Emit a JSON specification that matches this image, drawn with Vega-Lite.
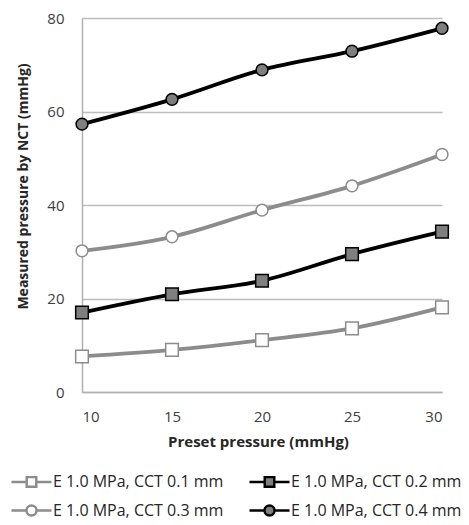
{
  "$schema": "https://vega.github.io/schema/vega-lite/v6.json",
  "autosize": "none",
  "padding": {"left": 82, "top": 18, "right": 27, "bottom": 133},
  "width": 360,
  "height": 374,
  "background": "white",
  "config": {
    "font": "Open Sans",
    "view": {"stroke": null},
    "axis": {"labelFont": "Open Sans", "titleFont": "Open Sans", "labelColor": "#404040", "titleColor": "#262626"}
  },
  "data": {
    "values": [
      {"x": 10, "y": 7.6, "s": "E 1.0 MPa, CCT 0.1 mm"},
      {"x": 15, "y": 9.0, "s": "E 1.0 MPa, CCT 0.1 mm"},
      {"x": 20, "y": 11.1, "s": "E 1.0 MPa, CCT 0.1 mm"},
      {"x": 25, "y": 13.6, "s": "E 1.0 MPa, CCT 0.1 mm"},
      {"x": 30, "y": 18.1, "s": "E 1.0 MPa, CCT 0.1 mm"},
      {"x": 10, "y": 17.0, "s": "E 1.0 MPa, CCT 0.2 mm"},
      {"x": 15, "y": 20.9, "s": "E 1.0 MPa, CCT 0.2 mm"},
      {"x": 20, "y": 23.8, "s": "E 1.0 MPa, CCT 0.2 mm"},
      {"x": 25, "y": 29.5, "s": "E 1.0 MPa, CCT 0.2 mm"},
      {"x": 30, "y": 34.3, "s": "E 1.0 MPa, CCT 0.2 mm"},
      {"x": 10, "y": 30.2, "s": "E 1.0 MPa, CCT 0.3 mm"},
      {"x": 15, "y": 33.2, "s": "E 1.0 MPa, CCT 0.3 mm"},
      {"x": 20, "y": 38.9, "s": "E 1.0 MPa, CCT 0.3 mm"},
      {"x": 25, "y": 44.1, "s": "E 1.0 MPa, CCT 0.3 mm"},
      {"x": 30, "y": 50.8, "s": "E 1.0 MPa, CCT 0.3 mm"},
      {"x": 10, "y": 57.3, "s": "E 1.0 MPa, CCT 0.4 mm"},
      {"x": 15, "y": 62.6, "s": "E 1.0 MPa, CCT 0.4 mm"},
      {"x": 20, "y": 68.9, "s": "E 1.0 MPa, CCT 0.4 mm"},
      {"x": 25, "y": 72.9, "s": "E 1.0 MPa, CCT 0.4 mm"},
      {"x": 30, "y": 77.8, "s": "E 1.0 MPa, CCT 0.4 mm"}
    ]
  },
  "encoding": {
    "x": {
      "field": "x", "type": "quantitative",
      "scale": {"domain": [10, 30], "nice": false, "zero": false},
      "axis": {
        "values": [10, 15, 20, 25, 30], "grid": false, "ticks": false,
        "domainColor": "#b0b0b0", "domainWidth": 1.5,
        "labelFontSize": 15, "labelPadding": 17,
        "title": "Preset pressure (mmHg)", "titleFontSize": 15, "titleFontWeight": "bold", "titlePadding": 10, "titleX": 176
      }
    },
    "y": {
      "field": "y", "type": "quantitative",
      "scale": {"domain": [0, 80], "nice": false},
      "axis": {
        "values": [0, 20, 40, 60, 80], "grid": true, "gridColor": "#bdbdbd", "gridWidth": 1.5, "ticks": false,
        "domainColor": "#b0b0b0", "domainWidth": 1.5,
        "labelFontSize": 15, "labelPadding": 18,
        "title": "Measured pressure by NCT  (mmHg)", "titleFontSize": 14, "titleFontWeight": "bold", "titlePadding": 16, "titleY": 168
      }
    },
    "stroke": {
      "field": "s", "type": "nominal",
      "scale": {
        "domain": ["E 1.0 MPa, CCT 0.1 mm", "E 1.0 MPa, CCT 0.2 mm", "E 1.0 MPa, CCT 0.3 mm", "E 1.0 MPa, CCT 0.4 mm"],
        "range": ["#8c8c8c", "#000000", "#8c8c8c", "#000000"]
      }
    },
    "fill": {
      "field": "s", "type": "nominal",
      "scale": {
        "domain": ["E 1.0 MPa, CCT 0.1 mm", "E 1.0 MPa, CCT 0.2 mm", "E 1.0 MPa, CCT 0.3 mm", "E 1.0 MPa, CCT 0.4 mm"],
        "range": ["#ffffff", "#7f7f7f", "#ffffff", "#7f7f7f"]
      }
    }
  },
  "layer": [
    {
      "mark": {"type": "line", "interpolate": "monotone", "strokeWidth": 3.8, "fill": null},
      "encoding": {"fill": {"value": null}}
    },
    {
      "transform": [{"filter": "datum.s === 'E 1.0 MPa, CCT 0.1 mm' || datum.s === 'E 1.0 MPa, CCT 0.2 mm'"}],
      "mark": {"type": "point", "shape": "square", "filled": true, "strokeWidth": 1.5, "fillOpacity": 1, "opacity": 1, "size": 160}
    },
    {
      "transform": [{"filter": "datum.s === 'E 1.0 MPa, CCT 0.3 mm' || datum.s === 'E 1.0 MPa, CCT 0.4 mm'"}],
      "mark": {"type": "point", "shape": "circle", "filled": true, "strokeWidth": 1.5, "fillOpacity": 1, "opacity": 1, "size": 140}
    },
    {
      "transform": [{"filter": "datum.x > 1000"}],
      "mark": {"type": "point", "filled": false, "strokeWidth": 2, "fillOpacity": 1, "opacity": 1},
      "encoding": {
        "fill": {
          "field": "s", "type": "nominal",
          "scale": {
            "domain": ["E 1.0 MPa, CCT 0.1 mm", "E 1.0 MPa, CCT 0.2 mm", "E 1.0 MPa, CCT 0.3 mm", "E 1.0 MPa, CCT 0.4 mm"],
            "range": ["#ffffff", "#7f7f7f", "#ffffff", "#7f7f7f"]
          }
        },
        "shape": {
          "field": "s", "type": "nominal",
          "scale": {
            "domain": ["E 1.0 MPa, CCT 0.1 mm", "E 1.0 MPa, CCT 0.2 mm", "E 1.0 MPa, CCT 0.3 mm", "E 1.0 MPa, CCT 0.4 mm"],
            "range": [
              "M-2,0H-0.48M0.48,0H2M-0.48,-0.48H0.48V0.48H-0.48Z",
              "M-2,0H-0.48M0.48,0H2M-0.48,-0.48H0.48V0.48H-0.48Z",
              "M-2,0H-0.5M0.5,0H2M0.5,0A0.5,0.5,0,1,1,-0.5,0A0.5,0.5,0,1,1,0.5,0Z",
              "M-2,0H-0.5M0.5,0H2M0.5,0A0.5,0.5,0,1,1,-0.5,0A0.5,0.5,0,1,1,0.5,0Z"
            ]
          },
          "legend": {
            "title": null, "orient": "none", "legendX": -62, "legendY": 452, "direction": "horizontal", "columns": 2,
            "columnPadding": 20, "rowPadding": 7,
            "labelFontSize": 16, "labelColor": "#262626", "labelLimit": 300, "labelOffset": 10,
            "symbolSize": 400, "symbolStrokeWidth": 2.4,
            "encode": {
              "symbols": {
                "update": {
                  "fill": {"signal": "(datum.value === 'E 1.0 MPa, CCT 0.1 mm' || datum.value === 'E 1.0 MPa, CCT 0.3 mm') ? '#ffffff' : '#8a8a8a'"},
                  "fillOpacity": {"value": 1}
                }
              }
            }
          }
        }
      }
    }
  ]
}
